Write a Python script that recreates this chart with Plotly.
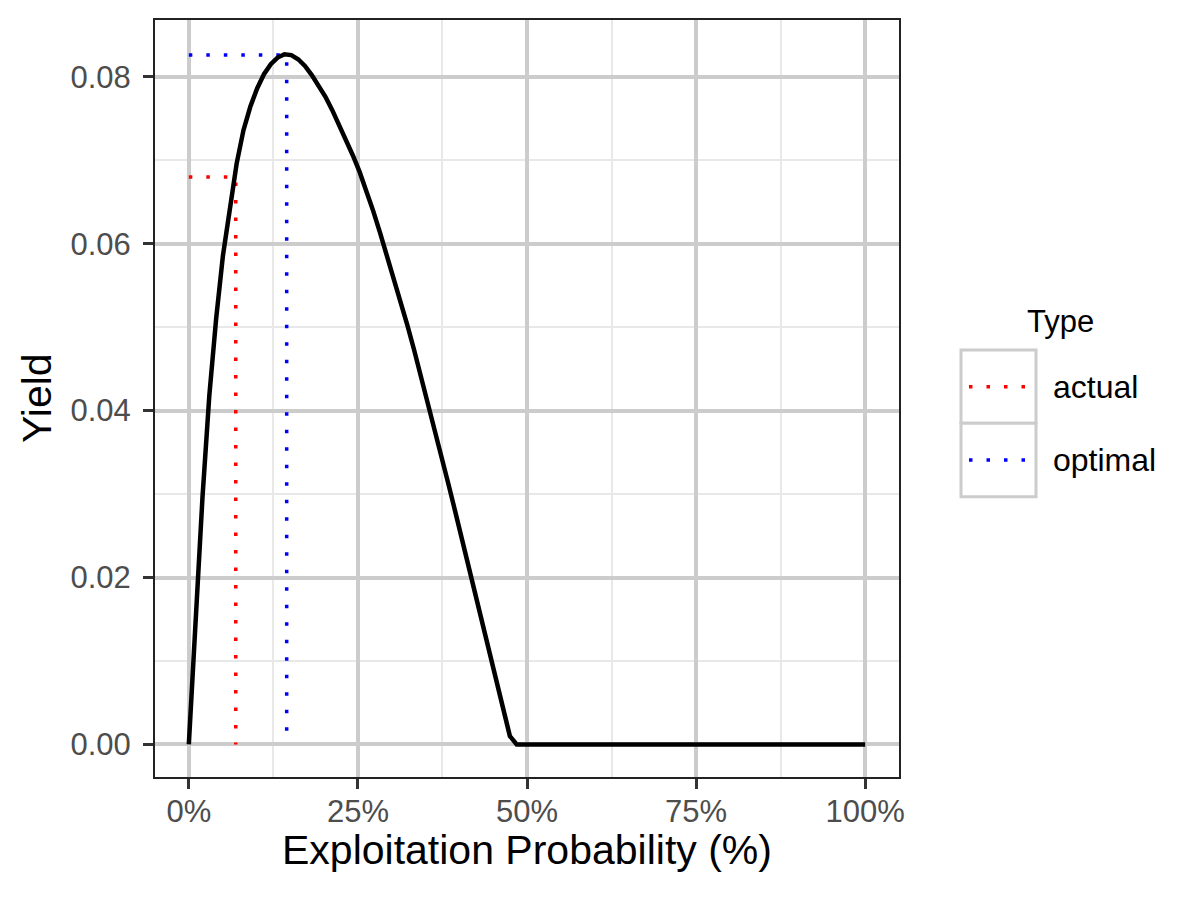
import plotly.graph_objects as go

# yield curve, x on a grid of i/99
exploitation = [0.0, 0.0101, 0.0202, 0.0303, 0.0404, 0.0505, 0.0606, 0.0707, 0.0808, 0.0909,
                0.1010, 0.1111, 0.1212, 0.1313, 0.1414, 0.1515, 0.1616, 0.1717, 0.1818, 0.1919,
                0.2020, 0.2121, 0.2222, 0.2323, 0.2424, 0.2525, 0.2626, 0.2727, 0.2828, 0.2929,
                0.3030, 0.3131, 0.3232, 0.3333, 0.3434, 0.3535, 0.3636, 0.3737, 0.3838, 0.3939,
                0.4040, 0.4141, 0.4242, 0.4343, 0.4444, 0.4545, 0.4646, 0.4747, 0.4848, 1.0]
yield_vals = [0.0, 0.0155, 0.0296, 0.0418, 0.0510, 0.0586, 0.0646, 0.0696, 0.0736, 0.0764,
              0.0786, 0.0803, 0.0815, 0.0823, 0.0827, 0.0826, 0.0821, 0.0813, 0.0802, 0.0790,
              0.0776, 0.0760, 0.0743, 0.0725, 0.0706, 0.0686, 0.0664, 0.0639, 0.0613, 0.0586,
              0.0559, 0.0531, 0.0502, 0.0472, 0.0441, 0.0409, 0.0377, 0.0345, 0.0312, 0.0279,
              0.0246, 0.0213, 0.0180, 0.0146, 0.0112, 0.0078, 0.0044, 0.0010, 0.0, 0.0]

types = ["actual", "optimal"]
type_x = [0.0694, 0.1447]
type_y = [0.0680, 0.0826]
type_colors = ["#FF0000", "#0000FF"]

x_ticks = [0, 0.25, 0.5, 0.75, 1.0]
y_ticks = [0.0, 0.02, 0.04, 0.06, 0.08]

FONT = "Liberation Sans, Arial, sans-serif"
DOT = "3.5px,14px"

# panel in pixels
W, H = 1200, 900
PL, PR, PT, PB = 155, 899, 20, 777


def px(x):
    return (x - PL) / (PR - PL)


def py(y):
    return (PB - y) / (PB - PT)


fig = go.Figure()

for t, xv, yv, c in zip(types, type_x, type_y, type_colors):
    fig.add_trace(go.Scatter(
        x=[0, xv, xv], y=[yv, yv, 0], mode="lines", name=t,
        line=dict(color=c, width=3.5, dash=DOT), showlegend=False))

fig.add_trace(go.Scatter(
    x=exploitation, y=yield_vals, mode="lines",
    line=dict(color="black", width=4.5), showlegend=False))

# hand-drawn legend to get the ggplot key boxes
shapes = []
annotations = []
box_l, box_r = 961, 1036
rows = [(350, 423.3), (423.3, 496.7)]
for (top, bot), t, c in zip(rows, types, type_colors):
    shapes.append(dict(type="rect", xref="paper", yref="paper",
                       x0=px(box_l), x1=px(box_r), y0=py(bot), y1=py(top),
                       line=dict(color="#CCCCCC", width=3), fillcolor="white", layer="above"))
    mid = (top + bot) / 2
    shapes.append(dict(type="line", xref="paper", yref="paper",
                       x0=px(969), x1=px(1030), y0=py(mid), y1=py(mid),
                       line=dict(color=c, width=3.5, dash=DOT), layer="above"))
    annotations.append(dict(text=t, xref="paper", yref="paper", x=px(1051), y=py(mid),
                            xanchor="left", yanchor="middle", showarrow=False,
                            font=dict(family=FONT, size=32, color="black")))

annotations.append(dict(text="Type", xref="paper", yref="paper", x=px(1060), y=py(321),
                        xanchor="center", yanchor="middle", showarrow=False,
                        font=dict(family=FONT, size=31, color="black")))
annotations.append(dict(text="Exploitation Probability (%)", xref="paper", yref="paper",
                        x=0.5, y=py(850), xanchor="center", yanchor="middle", showarrow=False,
                        font=dict(family=FONT, size=41, color="black")))
annotations.append(dict(text="Yield", xref="paper", yref="paper", textangle=-90,
                        x=px(36.5), y=0.5, xanchor="center", yanchor="middle", showarrow=False,
                        font=dict(family=FONT, size=41, color="black")))

axis_common = dict(
    showline=True, mirror=True, linecolor="#222222", linewidth=2,
    ticks="outside", ticklen=10, tickwidth=3, tickcolor="#333333",
    tickfont=dict(family=FONT, size=31, color="#4D4D4D"),
    showgrid=True, gridcolor="#CCCCCC", gridwidth=4, zeroline=False, automargin=False,
)

fig.update_layout(
    width=W, height=H,
    margin=dict(l=PL, r=W - PR, t=PT, b=H - PB),
    plot_bgcolor="white", paper_bgcolor="white",
    shapes=shapes, annotations=annotations,
    xaxis=dict(range=[-0.05, 1.05], tickvals=x_ticks, tickformat=".0%", ticklabelstandoff=-4,
               minor=dict(dtick=0.125, tick0=0, showgrid=True, gridcolor="#E8E8E8", gridwidth=2),
               **axis_common),
    yaxis=dict(range=[-0.0039, 0.0868], tickvals=y_ticks, tickformat=".2f", ticklabelstandoff=6,
               minor=dict(dtick=0.01, tick0=0, showgrid=True, gridcolor="#E8E8E8", gridwidth=2),
               **axis_common),
)

fig.write_html("out.html", config={"displayModeBar": False},
               post_script="document.body.style.margin='0';")
